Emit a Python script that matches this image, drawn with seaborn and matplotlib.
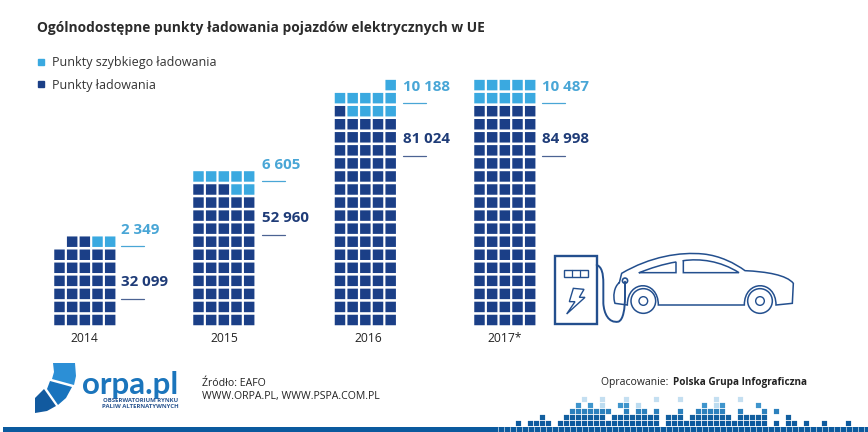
# %%
import matplotlib
matplotlib.use("Agg")
import matplotlib.pyplot as plt
from matplotlib.lines import Line2D
from matplotlib.patches import Circle, PathPatch, Polygon, Rectangle
from matplotlib.path import Path
import pandas as pd
import seaborn as sns

years = ["2014", "2015", "2016", "2017*"]
fast_points = [2349, 6605, 10188, 10487]
slow_points = [32099, 52960, 81024, 84998]
fast_labels = ["2 349", "6 605", "10 188", "10 487"]
slow_labels = ["32 099", "52 960", "81 024", "84 998"]
series_names = ["Punkty szybkiego ładowania", "Punkty ładowania"]

# one square = 1000 points
POINTS_PER_CELL = 1000
DARK = "#1b3f87"
LIGHT = "#3aa9e0"
DARK_TXT = "#1f3c78"
LIGHT_TXT = "#49a6d6"
FONT = "Open Sans"

# footer skyline, columns of 6 px squares per row above the band
sky_row1 = [0, 2, 3, 4, 5] + list(range(7, 24)) + list(range(25, 42)) + [43, 45, 46, 48, 51, 55]
sky_row2 = [4] + list(range(8, 15)) + list(range(16, 24)) + list(range(25, 28)) + list(range(29, 36)) + list(range(37, 42)) + [45]
sky_row3 = list(range(9, 16)) + [18, 20, 21, 23, 27] + list(range(30, 35)) + [37, 41, 43]
sky_row4 = [10, 12, 17, 18, 31, 34, 40]
sky_row4_pale = [14, 20, 33]
sky_row5 = [11, 14, 18, 23, 27, 33, 37]


# %%
def build_cells(bar_lefts, bottom=320.0, pitch_x=12.67, pitch_y=13.05):
    rows = []
    for left, year, fast, slow in zip(bar_lefts, years, fast_points, slow_points):
        n_slow = round(slow / POINTS_PER_CELL)
        n_fast = round(fast / POINTS_PER_CELL)
        total = n_slow + n_fast
        full_rows = total // 5
        extra = total % 5
        for i in range(total):
            row = i // 5
            col = i % 5
            # the unfinished top row sits on the right side
            if row == full_rows:
                col = col + 5 - extra
            rows.append({
                "year": year,
                "x": left + col * pitch_x,
                "y": bottom - row * pitch_y,
                "series": series_names[1] if i < n_slow else series_names[0],
            })
    return pd.DataFrame(rows)


sns.set_theme(style="white")
plt.rcParams["font.family"] = [FONT, "DejaVu Sans"]

fig = plt.figure(figsize=(8.68, 4.32), dpi=100, facecolor="white")
ax = fig.add_axes([0, 0, 1, 1])
ax.set_xlim(0, 868)
ax.set_ylim(432, 0)
ax.axis("off")

# %%
bar_lefts = [59.5, 198.5, 340, 479.5]
cells = build_cells(bar_lefts)
sns.scatterplot(
    data=cells, x="x", y="y", hue="series",
    palette={series_names[0]: LIGHT, series_names[1]: DARK},
    marker="s", s=57, linewidth=0, legend=False, snap=False, ax=ax,
)

# value labels and the short rules under them
label_x = [121, 262, 403, 542]
fast_y = [230, 165, 87, 87]
slow_y = [282, 218, 139, 139]
year_x = [84, 224, 368, 505]
for i in range(len(years)):
    ax.text(label_x[i], fast_y[i], fast_labels[i], color=LIGHT_TXT, fontsize=10.9,
            fontweight="bold", va="center")
    ax.text(label_x[i], slow_y[i], slow_labels[i], color=DARK_TXT, fontsize=10.9,
            fontweight="bold", va="center")
    ax.plot([label_x[i], label_x[i] + 23], [fast_y[i] + 16] * 2, color=LIGHT_TXT, lw=0.9)
    ax.plot([label_x[i], label_x[i] + 23], [slow_y[i] + 17] * 2, color=DARK_TXT, lw=0.9, alpha=0.8)
    ax.text(year_x[i], 338, years[i], color="#222222", fontsize=8.7, ha="center", va="center")

ax.text(37, 28, "Ogólnodostępne punkty ładowania pojazdów elektrycznych w UE",
        color="#2b2b2b", fontsize=9.93, fontweight="bold", va="center")

handles = [
    Line2D([], [], ls="", marker="s", ms=3.8, color=LIGHT, label=series_names[0]),
    Line2D([], [], ls="", marker="s", ms=3.8, color=DARK, label=series_names[1]),
]
ax.legend(handles=handles, loc="upper left", bbox_to_anchor=(28 / 868, 1 - 56 / 432),
          frameon=False, fontsize=9.0, labelcolor="#333333", handletextpad=-0.1,
          labelspacing=0.78, borderpad=0, borderaxespad=0)


# %%
# charging station and car, outline
def zx(v):
    return 540 + v / 3


def zy(v):
    return 240 + v / 3


def outline(verts, codes, lw=1.3, color="#234f8e"):
    pts = [(zx(a), zy(b)) for a, b in verts]
    ax.add_patch(PathPatch(Path(pts, codes), fc="none", ec=color, lw=lw, capstyle="round"))


M, L, C = Path.MOVETO, Path.LINETO, Path.CURVE4
ax.add_patch(Rectangle((zx(45), zy(48)), 125 / 3, 204 / 3, fc="none", ec="#234f8e", lw=1.7))
ax.add_patch(Rectangle((zx(72), zy(90)), 71 / 3, 20 / 3, fc="none", ec="#234f8e", lw=1.0))
ax.plot([zx(96)] * 2, [zy(90), zy(110)], color="#234f8e", lw=0.9)
ax.plot([zx(120)] * 2, [zy(90), zy(110)], color="#234f8e", lw=0.9)
bolt = [(100, 145), (132, 148), (118, 172), (135, 172), (80, 222), (105, 185), (88, 185)]
ax.add_patch(Polygon([(zx(a), zy(b)) for a, b in bolt], closed=True, fc="none", ec="#234f8e", lw=1.0))

# cable
outline([(170, 75), (185, 80), (190, 100), (190, 130), (190, 190), (192, 220),
         (205, 250), (235, 245), (250, 240), (255, 205), (255, 170), (255, 125)],
        [M, C, C, C, L, C, C, C, C, C, C, L], lw=1.4)
ax.add_patch(Circle((zx(255), zy(122)), 2.6, fc="none", ec="#234f8e", lw=1.2))

# body
outline([(238, 128), (245, 100),
         (330, 50), (420, 35), (490, 42),
         (540, 47), (585, 70), (615, 92),
         (680, 95), (740, 105), (760, 130),
         (757, 190), (708, 195),
         (708, 118), (613, 118), (613, 195),
         (355, 195),
         (355, 118), (262, 118), (262, 195),
         (225, 190),
         (218, 170), (222, 140), (238, 128)],
        [M, L] + [C] * 9 + [L, L] + [C] * 3 + [L] + [C] * 3 + [L] + [C] * 3, lw=1.1)
# windows
outline([(298, 98), (330, 85), (370, 72), (408, 66), (408, 98), (298, 98)],
        [M, C, C, C, L, L], lw=1.1)
outline([(430, 62), (480, 55), (540, 62), (597, 98), (430, 98), (430, 62)],
        [M, C, C, C, L, L], lw=1.1)
# wheels
for cx in [310, 660]:
    ax.add_patch(Circle((zx(cx), zy(183)), 37 / 3, fc="white", ec="#234f8e", lw=1.1))
    ax.add_patch(Circle((zx(cx), zy(183)), 13 / 3, fc="white", ec="#234f8e", lw=1.0))

# %%
# logo
LOGO = ["#2c8fd6", "#1873bd", "#125a9f"]
segments = [
    [(53, 363), (75, 363), (76, 376), (74, 385), (52, 379), (54, 372)],
    [(50, 381), (72, 387), (66, 398), (58, 405), (47, 389)],
    [(44, 389), (56, 406), (47, 411), (35, 413), (35, 398)],
]
for seg, col in zip(segments, LOGO):
    ax.add_patch(Polygon(seg, closed=True, fc=col, ec="none"))
ax.text(82, 385, "orpa.pl", color="#1b75bc", fontsize=22.5, fontweight="bold",
        family="Lato", va="center", ha="left")
ax.text(178.5, 400.5, "OBSERWATORIUM RYNKU", color="#2a5590", fontsize=4.3, fontweight="bold",
        ha="right", va="center")
ax.text(178.5, 407, "PALIW ALTERNATYWNYCH", color="#2a5590", fontsize=4.3, fontweight="bold",
        ha="right", va="center")

# footer
ax.text(202, 383, "Źródło: EAFO", color="#222222", fontsize=7.6, va="center")
ax.text(202, 397, "WWW.ORPA.PL, WWW.PSPA.COM.PL", color="#222222", fontsize=7.55, va="center")
ax.text(601, 383, "Opracowanie: ", color="#222222", fontsize=7.5, va="center")
ax.text(673, 383, "Polska Grupa Infograficzna", color="#222222", fontsize=7.2,
        fontweight="bold", va="center")

ax.add_patch(Rectangle((3, 427), 865, 5, fc="#0b5a9e", ec="none"))
for k in range(63):
    ax.plot([497.5 + k * 6] * 2, [427, 432], color="white", lw=0.6, alpha=0.7)
sky = [
    (sky_row1, 423, "#0d5a9e"), (sky_row2, 417, "#125f9f"), (sky_row3, 411, "#2c81bd"),
    (sky_row4, 405, "#3f95cc"), (sky_row4_pale, 405, "#bcdcf0"), (sky_row5, 399, "#c4dff1"),
]
for cols, y, col in sky:
    ax.scatter([518 + c * 6 for c in cols], [y] * len(cols), marker="s", s=14, color=col,
               linewidths=0, snap=False)

fig.savefig("out.png", dpi=100, facecolor="white")
